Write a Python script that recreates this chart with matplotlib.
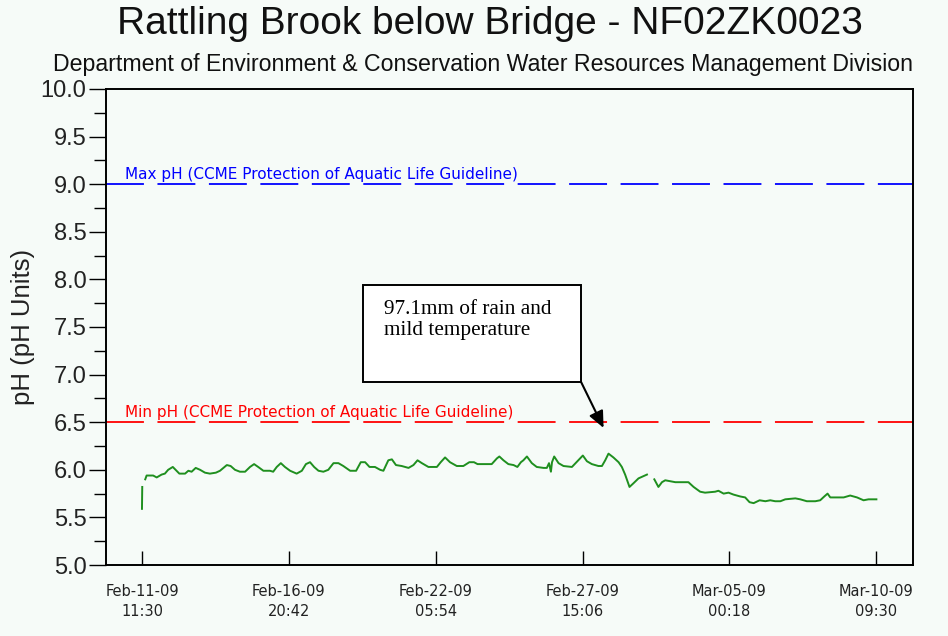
import numpy as np
import pandas as pd
import matplotlib
matplotlib.use("Agg")
import matplotlib.pyplot as plt
import matplotlib.dates as mdates
from matplotlib.patches import Rectangle

# record start / end of the deployment
start = pd.Timestamp("2009-02-11 11:30")
end = pd.Timestamp("2009-03-10 09:30")

# days since start, pH; NaN marks a gap in the record
days = [0.00, 0.01, np.nan,
        0.12, 0.17, 0.41, 0.54, 0.72, 0.84, 0.96, 1.13, 1.27, 1.37, 1.58, 1.70,
        1.82, 1.97, 2.13, 2.31, 2.49, 2.71, 2.86, 3.11, 3.25, 3.41, 3.59, 3.78,
        3.96, 4.11, 4.26, 4.45, 4.69, 4.81, 4.94, 5.09, 5.24, 5.43, 5.67, 5.86,
        6.01, 6.16, 6.31, 6.47, 6.65, 6.83, 7.02, 7.20, 7.38, 7.63, 7.85, 8.02,
        8.18, 8.34, 8.54, 8.73, 8.85, 9.03, 9.16, 9.31, 9.52, 9.77, 9.95, 10.10,
        10.26, 10.50, 10.81, 10.95, 11.11, 11.29, 11.54, 11.78, 12.00, 12.17,
        12.30, 12.82, 13.01, 13.10, 13.25, 13.43, 13.62, 13.76, 13.89, 13.98,
        14.11, 14.29, 14.47, 14.72, 14.84, 14.92, 14.99, 15.03, 15.11, 15.27,
        15.45, 15.76, 15.96, 16.16, 16.31, 16.49, 16.73, 16.86, 16.98, 17.10,
        17.28, 17.47, 17.59, 17.71, 17.87, 18.02, 18.20, 18.36, 18.51, np.nan,
        18.78, 18.93, 19.06, 19.18, 19.36, 19.55, 20.03, 20.22, 20.46, 20.64,
        21.01, 21.13, 21.32, 21.50, 21.68, 21.93, 22.11, 22.27, 22.42, 22.64,
        22.85, 23.03, 23.21, 23.40, 23.58, 23.95, 24.13, 24.37, 24.68, 24.86,
        25.01, 25.13, 25.23, 25.72, 25.96, 26.21, 26.45, 26.63, 26.92]
ph = [5.59, 5.82, np.nan,
      5.90, 5.94, 5.94, 5.92, 5.95, 5.96, 6.00, 6.03, 5.99, 5.96, 5.96, 5.99,
      5.98, 6.02, 6.00, 5.97, 5.96, 5.97, 5.99, 6.05, 6.04, 6.00, 5.98, 5.98,
      6.03, 6.06, 6.03, 5.99, 5.99, 5.98, 6.03, 6.07, 6.03, 5.99, 5.96, 5.99,
      6.06, 6.08, 6.03, 5.99, 5.98, 6.00, 6.07, 6.07, 6.04, 5.99, 5.99, 6.08,
      6.08, 6.03, 6.03, 6.00, 5.99, 6.10, 6.11, 6.05, 6.04, 6.02, 6.05, 6.10,
      6.07, 6.03, 6.03, 6.08, 6.13, 6.08, 6.04, 6.04, 6.08, 6.08,
      6.06, 6.06, 6.12, 6.14, 6.10, 6.06, 6.05, 6.03, 6.08, 6.10,
      6.14, 6.07, 6.03, 6.02, 6.02, 6.07, 5.98, 6.08, 6.14, 6.07,
      6.04, 6.03, 6.09, 6.15, 6.09, 6.06, 6.04, 6.04, 6.10, 6.17,
      6.13, 6.08, 6.03, 5.95, 5.82, 5.86, 5.91, 5.93, 5.95, np.nan,
      5.90, 5.82, 5.87, 5.89, 5.88, 5.87, 5.87, 5.82, 5.77, 5.76,
      5.77, 5.78, 5.75, 5.76, 5.74, 5.72, 5.71, 5.66, 5.65, 5.68,
      5.67, 5.68, 5.67, 5.67, 5.69, 5.70, 5.69, 5.67, 5.67, 5.68,
      5.72, 5.75, 5.71, 5.71, 5.73, 5.71, 5.68, 5.69, 5.69]

max_ph = 9.0
min_ph = 6.5
max_label = "Max pH (CCME Protection of Aquatic Life Guideline)"
min_label = "Min pH (CCME Protection of Aquatic Life Guideline)"
note = "97.1mm of rain and\nmild temperature"

BG = "#f6fbf8"

plt.rcParams["font.family"] = ["Liberation Sans", "DejaVu Sans"]

fig = plt.figure(figsize=(9.48, 6.36), dpi=100, facecolor=BG)
ax = fig.add_axes([0.1118, 0.1116, 0.8513, 0.7485], facecolor=BG)

times = [start + pd.Timedelta(days=d) if not np.isnan(d) else pd.NaT for d in days]
t_num = np.array([mdates.date2num(t) if t is not pd.NaT else np.nan for t in times])
ax.plot(t_num, ph, color="#1f8f1f", lw=1.4)

t0 = mdates.date2num(start)
t1 = mdates.date2num(end)
span = t1 - t0
ax.set_xlim(t0 - 0.049 * span, t1 + 0.050 * span)
ax.set_ylim(5.0, 10.0)

# guideline lines
for val, col, lab in [(max_ph, "#0000ff", max_label), (min_ph, "#ff0000", min_label)]:
    ax.axhline(val, color=col, lw=1.3, dashes=(21, 7.5))
    ax.annotate(lab, xy=(0.0235, val), xycoords=ax.get_yaxis_transform(),
                xytext=(0, 1.5), textcoords="offset points",
                color=col, fontsize=11, family="DejaVu Sans", va="bottom", ha="left")

# ticks
xt = np.linspace(t0, t1, 6)
ax.set_xticks(xt)
ax.set_xticklabels([mdates.num2date(v).strftime("%b-%d-%y\n%H:%M") for v in xt],
                   fontsize=10.5, family="DejaVu Sans", linespacing=1.35,
                   color="#222222")
ax.tick_params(axis="x", direction="in", length=10, width=1, pad=14, top=False)
ax.set_yticks(np.arange(5.0, 10.01, 0.5))
ax.set_yticklabels([f"{v:.1f}" for v in np.arange(5.0, 10.01, 0.5)],
                   fontsize=17, color="#222222")
ax.set_yticks(np.arange(5.25, 10.0, 0.5), minor=True)
ax.tick_params(axis="y", which="major", direction="out", length=12, width=1, pad=2)
ax.tick_params(axis="y", which="minor", direction="out", length=9, width=1)
for s in ax.spines.values():
    s.set_linewidth(1.4)

ax.set_ylabel("pH (pH Units)", fontsize=18.5, color="#222222", labelpad=4)

fig.text(0.517, 0.962, "Rattling Brook below Bridge - NF02ZK0023",
         ha="center", va="center", fontsize=28, color="#111111")
fig.text(0.509, 0.899, "Department of Environment & Conservation Water Resources Management Division",
         ha="center", va="center", fontsize=16.7, color="#111111")

# rainfall note
bx0 = t0 + 8.10
bx1 = t0 + 16.10
ax.add_patch(Rectangle((bx0, 6.92), bx1 - bx0, 7.94 - 6.92, facecolor="white",
                       edgecolor="black", lw=1.4, zorder=4))
ax.text(bx0 + 0.78, 7.78, note, family="Liberation Serif", fontsize=15.3,
        va="top", ha="left", linespacing=1.1, zorder=5)
ax.annotate("", xy=(t0 + 16.92, 6.44), xytext=(bx1, 6.92),
            arrowprops=dict(arrowstyle="-|>,head_length=1.0,head_width=0.45",
                            color="black", lw=1.5, shrinkA=0, shrinkB=0), zorder=5)

fig.savefig("out.png", dpi=100, facecolor=BG)
